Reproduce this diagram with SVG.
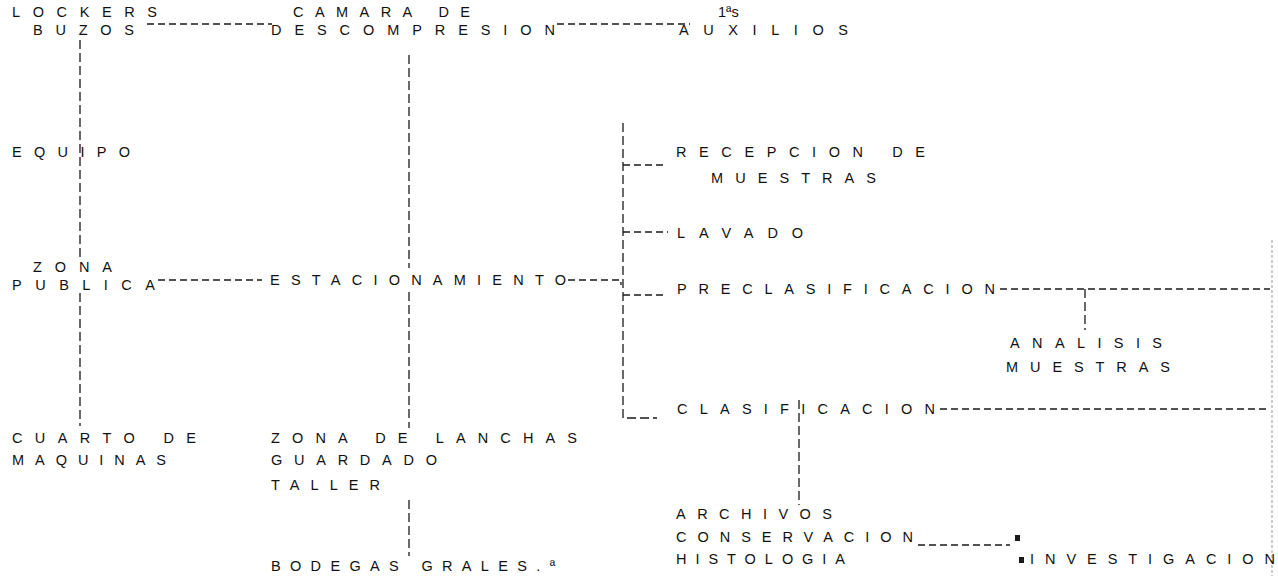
<svg xmlns="http://www.w3.org/2000/svg" width="1278" height="576" viewBox="0 0 1278 576">
<style>
text{font-family:"Liberation Sans","DejaVu Sans",sans-serif;font-size:14.5px;fill:#111}
.c line,.c polyline{stroke:#1a1a1a;stroke-width:1.3;fill:none;stroke-dasharray:7 4}
.c .v{stroke-dasharray:9 4}
.c .edge{stroke:#9a9a9a;stroke-width:1;stroke-dasharray:3 2}
</style>
<rect width="1278" height="576" fill="#fff"/>
<g class="c" id="connectors">
<line x1="147" y1="24" x2="272" y2="24"/>
<line x1="557" y1="24" x2="690" y2="24"/>
<line class="v" x1="80" y1="40" x2="80" y2="258"/>
<line class="v" x1="80" y1="293" x2="80" y2="426"/>
<line class="v" x1="409" y1="55" x2="409" y2="268"/>
<line class="v" x1="409" y1="292" x2="409" y2="428"/>
<line class="v" x1="409" y1="500" x2="409" y2="556"/>
<line x1="158" y1="280" x2="262" y2="280"/>
<polyline points="568,280 621,280 621,285"/>
<polyline class="v" points="623,123 623,418 657,418"/>
<line x1="623" y1="165" x2="664" y2="165"/>
<line x1="623" y1="232" x2="668" y2="232"/>
<line x1="623" y1="295" x2="665" y2="295"/>
<line x1="1000" y1="289" x2="1270" y2="289"/>
<line class="v" x1="1085" y1="289" x2="1085" y2="330"/>
<line x1="940" y1="409" x2="1270" y2="409"/>
<line class="v" x1="799" y1="400" x2="799" y2="505"/>
<line x1="918" y1="545" x2="1010" y2="545"/>
<line class="edge" x1="1272" y1="240" x2="1272" y2="576"/>
<rect x="1015" y="535" width="5" height="6" fill="#1a1a1a"/>
<rect x="1019" y="557" width="5" height="6" fill="#1a1a1a"/>
</g>
<g id="lockers"><text x="12" y="17" textLength="145" lengthAdjust="spacing">LOCKERS</text><text x="33" y="35" textLength="101" lengthAdjust="spacing">BUZOS</text></g>
<g id="camara"><text x="293" y="17" textLength="177" lengthAdjust="spacing">CAMARA  DE</text><text x="271" y="35" textLength="284" lengthAdjust="spacing">DESCOMPRESION</text></g>
<g id="auxilios"><text x="718" y="17">1ªs</text><text x="679" y="35" textLength="169" lengthAdjust="spacing">AUXILIOS</text></g>
<g id="equipo"><text x="12" y="157" textLength="118" lengthAdjust="spacing">EQUIPO</text></g>
<g id="recepcion"><text x="676" y="157" textLength="249" lengthAdjust="spacing">RECEPCION  DE</text><text x="711" y="183" textLength="165" lengthAdjust="spacing">MUESTRAS</text></g>
<g id="lavado"><text x="677" y="238" textLength="126" lengthAdjust="spacing">LAVADO</text></g>
<g id="zona-publica"><text x="33" y="272" textLength="79" lengthAdjust="spacing">ZONA</text><text x="12" y="290" textLength="143" lengthAdjust="spacing">PUBLICA</text></g>
<g id="estacionamiento"><text x="270" y="285" textLength="296" lengthAdjust="spacing">ESTACIONAMIENTO</text></g>
<g id="preclasificacion"><text x="677" y="294" textLength="318" lengthAdjust="spacing">PRECLASIFICACION</text></g>
<g id="analisis"><text x="1010" y="348" textLength="152" lengthAdjust="spacing">ANALISIS</text><text x="1006" y="372" textLength="164" lengthAdjust="spacing">MUESTRAS</text></g>
<g id="clasificacion"><text x="677" y="414" textLength="258" lengthAdjust="spacing">CLASIFICACION</text></g>
<g id="cuarto"><text x="12" y="443" textLength="184" lengthAdjust="spacing">CUARTO  DE</text><text x="12" y="465" textLength="154" lengthAdjust="spacing">MAQUINAS</text></g>
<g id="lanchas"><text x="271" y="443" textLength="306" lengthAdjust="spacing">ZONA  DE  LANCHAS</text><text x="271" y="465" textLength="166" lengthAdjust="spacing">GUARDADO</text><text x="271" y="490" textLength="109" lengthAdjust="spacing">TALLER</text></g>
<g id="bodegas"><text x="271" y="571" textLength="284" lengthAdjust="spacing">BODEGAS  GRALES.ª</text></g>
<g id="archivos"><text x="676" y="519" textLength="156" lengthAdjust="spacing">ARCHIVOS</text><text x="676" y="542" textLength="237" lengthAdjust="spacing">CONSERVACION</text><text x="676" y="564" textLength="169" lengthAdjust="spacing">HISTOLOGIA</text></g>
<g id="investigacion"><text x="1030" y="564" textLength="245" lengthAdjust="spacing">INVESTIGACION</text></g>
</svg>
